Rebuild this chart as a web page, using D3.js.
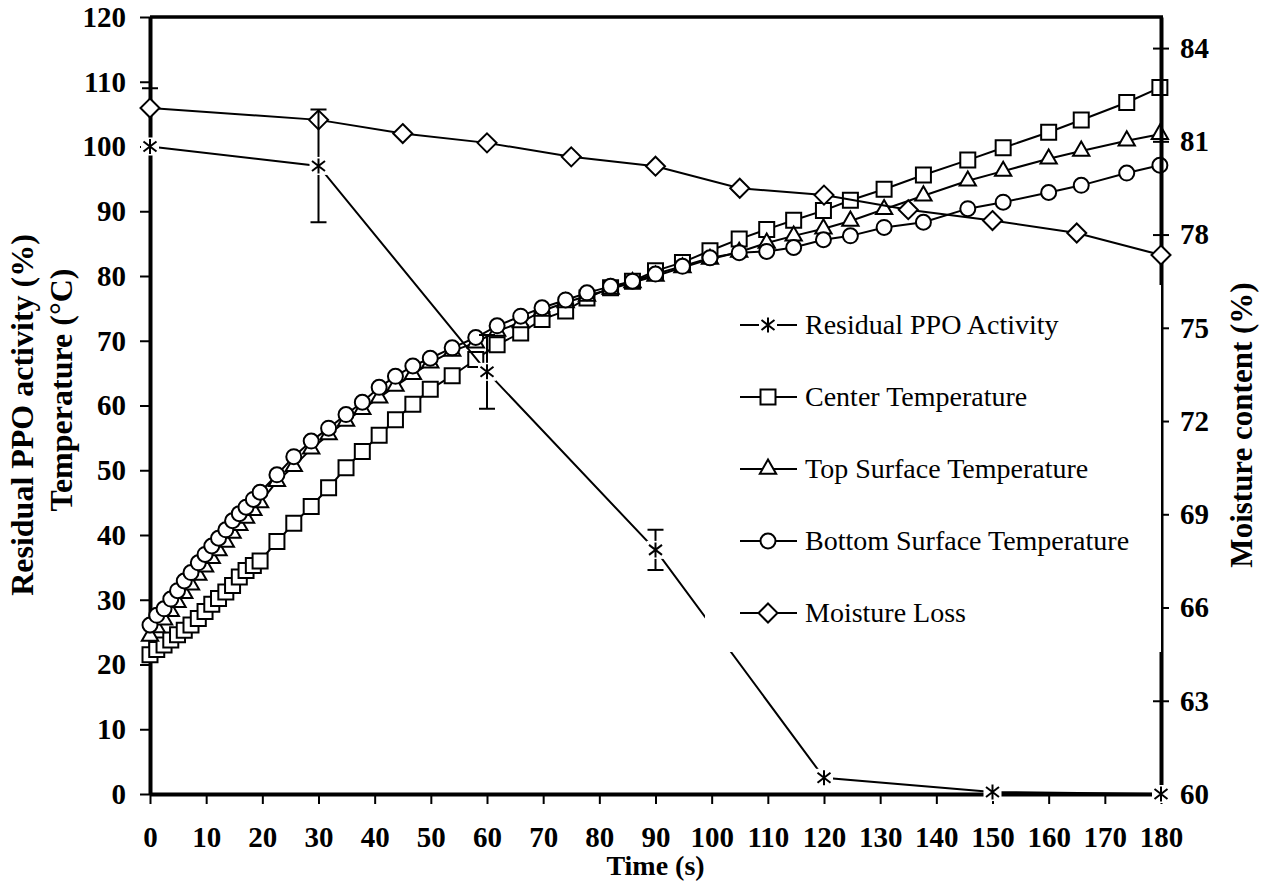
<!DOCTYPE html>
<html>
<head>
<meta charset="utf-8">
<script src="https://cdn.jsdelivr.net/npm/d3@7"></script>
<style>
  body { margin: 0; background: #fff; }
  text { font-family: "Liberation Serif", "Times New Roman", serif; }
</style>
</head>
<body>
<div id="my_dataviz"></div>
<script>

// residual PPO activity (left axis)
var ppoTime = [0, 30, 60, 90, 120, 150, 180];
var ppoActivity = [100, 97, 65.2, 37.7, 2.5, 0.3, 0];
var ppoError = [0, 8.7, 5.7, 3.1, 0, 0, 0];

// moisture content (right axis)
var moistTime = [0, 30, 45, 60, 75, 90, 105, 120, 135, 150, 165, 180];
var moisture = [82.07, 81.69, 81.25, 80.95, 80.5, 80.2, 79.49, 79.27, 78.8, 78.45, 78.05, 77.34];
var moistErrorUp = [0.64, 0, 0, 0, 0, 0, 0, 0, 0, 0, 0, 0];

// temperatures, all logged at the same times
var tempTime = [0, 1.2, 2.5, 3.7, 4.9, 6.1, 7.3, 8.6, 9.8, 11.0, 12.2, 13.5, 14.7, 15.9, 17.1, 18.4, 19.6,
    22.6, 25.6, 28.7, 31.8, 34.9, 37.8, 40.8, 43.7, 46.8, 49.9, 53.8, 58.0, 61.8, 66.0, 69.8, 74.0,
    77.8, 82.0, 85.9, 90.0, 94.8, 99.7, 104.9, 109.8, 114.6, 119.9, 124.7, 130.7, 137.7, 145.6,
    151.9, 160.0, 165.8, 173.9, 179.8];
var centerTemp = [21.5, 22.3, 23.0, 23.8, 24.6, 25.3, 26.1, 27.1, 28.2, 29.3, 30.2, 31.2, 32.2, 33.5, 34.5, 35.3, 36.0,
    39.0, 41.8, 44.4, 47.3, 50.4, 52.9, 55.4, 57.8, 60.2, 62.5, 64.6, 67.1, 69.4, 71.2, 73.3, 74.6,
    76.6, 78.2, 79.2, 80.8, 82.1, 83.9, 85.7, 87.2, 88.6, 90.1, 91.7, 93.4, 95.6, 97.9,
    99.8, 102.2, 104.1, 106.8, 109.1];
var topTemp = [24.4, 25.7, 26.9, 28.2, 29.6, 31.0, 32.3, 33.8, 35.1, 36.4, 37.6, 38.9, 40.3, 41.5, 42.6, 43.8, 45.0,
    48.3, 50.6, 53.3, 55.5, 57.6, 59.4, 61.2, 63.0, 64.8, 66.6, 68.4, 69.7, 71.5, 72.8, 74.6, 75.9,
    76.9, 78.0, 79.0, 80.0, 81.3, 82.6, 83.7, 85.1, 86.2, 87.3, 88.5, 90.3, 92.4, 94.7,
    96.2, 98.1, 99.3, 100.9, 101.9];
var bottomTemp = [26.1, 27.6, 28.6, 30.1, 31.4, 32.9, 34.2, 35.7, 37.0, 38.3, 39.5, 40.8, 42.2, 43.3, 44.3, 45.5, 46.6,
    49.3, 52.1, 54.5, 56.5, 58.6, 60.5, 62.8, 64.5, 66.1, 67.3, 68.9, 70.5, 72.3, 73.8, 75.1, 76.3,
    77.4, 78.4, 79.2, 80.3, 81.5, 82.8, 83.6, 83.8, 84.4, 85.6, 86.2, 87.5, 88.3, 90.4,
    91.4, 92.9, 94.0, 95.9, 97.1];

var xTicks = d3.range(0, 181, 10);
var yTicks = d3.range(0, 121, 10);
var y2Ticks = [60, 63, 66, 69, 72, 75, 78, 81, 84];

var legendNames = ["Residual PPO Activity", "Center Temperature", "Top Surface Temperature",
    "Bottom Surface Temperature", "Moisture Loss"];

// plot box
var plot = {left: 150, right: 1161, top: 17, bottom: 794};

var svg = d3.select("#my_dataviz")
    .append("svg")
    .attr("width", 1262)
    .attr("height", 886);

var x = d3.scaleLinear().domain([0, 180]).range([plot.left, plot.right]);
var y = d3.scaleLinear().domain([0, 120]).range([plot.bottom, plot.top]);
var y2 = d3.scaleLinear().domain([60, 85]).range([plot.bottom, plot.top]);

// marker drawing helpers
var sq = d3.symbol().type(d3.symbolSquare).size(225)();
var tri = d3.symbol().type(d3.symbolTriangle).size(115)();
var diamond = "M0,-9.5L9.5,0L0,9.5L-9.5,0Z";
var star = "M0,-7.5V7.5M-6.5,-5L6.5,5M-6.5,5L6.5,-5";

function drawMarker(g, kind) {
    if (kind == "star") {
        g.append("rect").attr("x", -9).attr("y", -9).attr("width", 18).attr("height", 18)
            .style("fill", "#fff");
        g.append("path").attr("d", star).style("stroke", "#000").style("stroke-width", 2).style("fill", "none");
    } else if (kind == "circle") {
        g.append("circle").attr("r", 7.5)
            .style("fill", "#fff").style("stroke", "#000").style("stroke-width", 2);
    } else {
        var d = kind == "square" ? sq : (kind == "tri" ? tri : diamond);
        g.append("path").attr("d", d)
            .style("fill", "#fff").style("stroke", "#000").style("stroke-width", 2);
    }
}

function drawSeries(times, values, yScale, kind) {
    var pts = times.map(function(t, i) { return [x(t), yScale(values[i])]; });
    svg.append("path")
        .attr("d", d3.line()(pts))
        .style("fill", "none")
        .style("stroke", "#000")
        .style("stroke-width", 2);
    svg.selectAll(null)
        .data(pts).enter()
        .append("g")
        .attr("transform", function(p) { return "translate(" + p[0] + "," + p[1] + ")"; })
        .each(function() { drawMarker(d3.select(this), kind); });
}

function styleAxis(g) {
    g.select(".domain").style("stroke-width", 4);
    g.selectAll(".tick line").style("stroke-width", 2);
    g.selectAll(".tick text")
        .style("font-size", "29px")
        .style("font-weight", "bold")
        .style("fill", "#000");
}

// top frame line
svg.append("line")
    .attr("x1", plot.left).attr("x2", plot.right + 2)
    .attr("y1", plot.top).attr("y2", plot.top)
    .style("stroke", "#000").style("stroke-width", 3.5);

// left axis
svg.append("g")
    .attr("transform", "translate(" + plot.left + ",0)")
    .call(d3.axisLeft(y).tickValues(yTicks).tickSizeInner(10).tickSizeOuter(0).tickPadding(14))
    .call(styleAxis);

// bottom axis
svg.append("g")
    .attr("transform", "translate(0," + plot.bottom + ")")
    .call(d3.axisBottom(x).tickValues(xTicks).tickSizeInner(10).tickSizeOuter(0).tickPadding(22))
    .call(styleAxis);

// temperature series
drawSeries(tempTime, centerTemp, y, "square");
drawSeries(tempTime, topTemp, y, "tri");
drawSeries(tempTime, bottomTemp, y, "circle");

// right axis, ticks cross the line
var rightAxis = svg.append("g")
    .attr("transform", "translate(" + plot.right + ",0)")
    .call(d3.axisRight(y2).tickValues(y2Ticks).tickSizeInner(8).tickSizeOuter(0).tickPadding(11))
    .call(styleAxis);
rightAxis.selectAll(".tick line").attr("x1", -8);

// moisture with its error cap
moistTime.forEach(function(t, i) {
    if (moistErrorUp[i] > 0) {
        svg.append("path")
            .attr("d", "M" + x(t) + "," + y2(moisture[i]) + "V" + y2(moisture[i] + moistErrorUp[i]) +
                "M" + (x(t) - 8) + "," + y2(moisture[i] + moistErrorUp[i]) + "h16")
            .style("stroke", "#000").style("stroke-width", 2);
    }
});
drawSeries(moistTime, moisture, y2, "diamond");

// PPO activity with error bars
ppoTime.forEach(function(t, i) {
    var e = ppoError[i];
    if (e > 0) {
        var hi = y(ppoActivity[i] + e), lo = y(ppoActivity[i] - e), cx = x(t);
        svg.append("path")
            .attr("d", "M" + cx + "," + hi + "V" + lo +
                "M" + (cx - 8) + "," + hi + "h16M" + (cx - 8) + "," + lo + "h16")
            .style("stroke", "#000").style("stroke-width", 2).style("fill", "none");
    }
});
drawSeries(ppoTime, ppoActivity, y, "star");

// legend
svg.append("rect")
    .attr("x", 705).attr("y", 285)
    .attr("width", plot.right - 705).attr("height", 367)
    .style("fill", "#fff");

var legendKinds = ["star", "square", "tri", "circle", "diamond"];
legendNames.forEach(function(name, i) {
    var ly = 325 + i * 72;
    svg.append("line")
        .attr("x1", 740).attr("x2", 797).attr("y1", ly).attr("y2", ly)
        .style("stroke", "#000").style("stroke-width", 2);
    drawMarker(svg.append("g").attr("transform", "translate(768," + ly + ")"), legendKinds[i]);
    svg.append("text")
        .attr("x", 805).attr("y", ly + 9)
        .text(name)
        .style("font-size", "28px")
        .style("fill", "#000");
});

// axis titles
svg.append("text")
    .attr("text-anchor", "middle")
    .attr("x", (plot.left + plot.right) / 2).attr("y", 875)
    .text("Time (s)")
    .style("font-size", "28px").style("font-weight", "bold");

svg.append("text")
    .attr("text-anchor", "middle")
    .attr("transform", "translate(33,415) rotate(-90)")
    .text("Residual PPO activity (%)")
    .style("font-size", "32px").style("font-weight", "bold");

svg.append("text")
    .attr("text-anchor", "middle")
    .attr("transform", "translate(72,390) rotate(-90)")
    .text("Temperature (°C)")
    .style("font-size", "32px").style("font-weight", "bold");

svg.append("text")
    .attr("text-anchor", "middle")
    .attr("transform", "translate(1252,425) rotate(-90)")
    .text("Moisture content (%)")
    .style("font-size", "31px").style("font-weight", "bold");

</script>
</body>
</html>
